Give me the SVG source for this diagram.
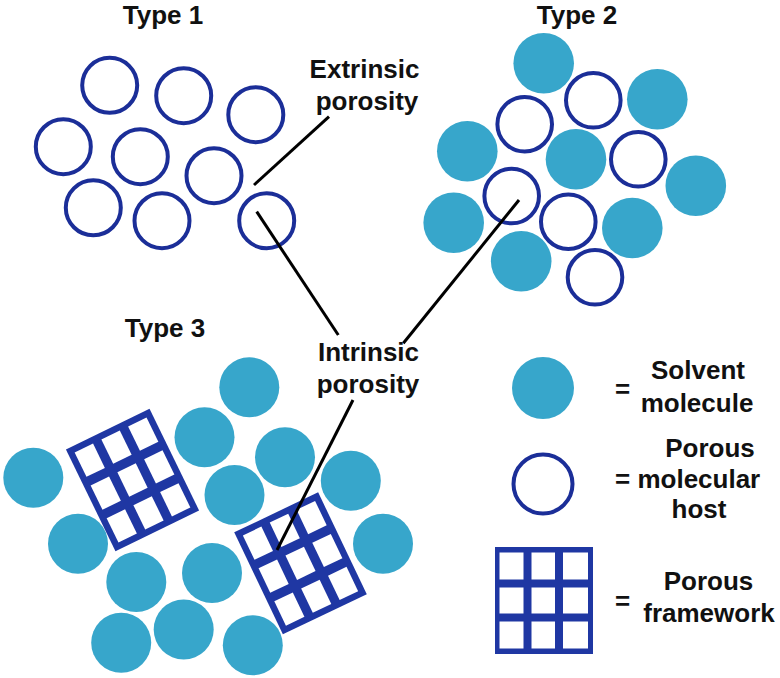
<svg xmlns="http://www.w3.org/2000/svg" xmlns:xlink="http://www.w3.org/1999/xlink" width="780" height="678" viewBox="0 0 780 678">
<style>
.host{fill:#ffffff;stroke:#1B2E98;stroke-width:4}
.solv{fill:#37A6CB}
.fw{fill:#1F37A3}
.cell{fill:#ffffff}
.lbl{font-family:"Liberation Sans",Arial,sans-serif;font-weight:bold;font-size:26px;fill:#111111}
.mid{text-anchor:middle}
.conn{stroke:#000000;stroke-width:3;stroke-linecap:butt;fill:none}
</style>
<defs>
<g id="grid">
<rect class="fw" x="-46.5" y="-56.5" width="93" height="113"/>
<rect class="cell" x="-40" y="-50" width="20.5" height="27"/>
<rect class="cell" x="-10.25" y="-50" width="20.5" height="27"/>
<rect class="cell" x="19.5" y="-50" width="20.5" height="27"/>
<rect class="cell" x="-40" y="-13.5" width="20.5" height="27"/>
<rect class="cell" x="-10.25" y="-13.5" width="20.5" height="27"/>
<rect class="cell" x="19.5" y="-13.5" width="20.5" height="27"/>
<rect class="cell" x="-40" y="23" width="20.5" height="27"/>
<rect class="cell" x="-10.25" y="23" width="20.5" height="27"/>
<rect class="cell" x="19.5" y="23" width="20.5" height="27"/>
</g>
</defs>
<rect width="780" height="678" fill="#ffffff"/>

<g id="type1">
<circle class="host" cx="109.7" cy="85.3" r="27.5"/>
<circle class="host" cx="183.7" cy="95.7" r="27.5"/>
<circle class="host" cx="255.8" cy="114.7" r="27.5"/>
<circle class="host" cx="63.3" cy="146.7" r="27.5"/>
<circle class="host" cx="140.3" cy="156.7" r="27.5"/>
<circle class="host" cx="214" cy="175.7" r="27.5"/>
<circle class="host" cx="93.3" cy="207.8" r="27.5"/>
<circle class="host" cx="162" cy="220.7" r="27.5"/>
<circle class="host" cx="266.7" cy="220.7" r="27.5"/>
</g>

<g id="type2">
<circle class="solv" cx="543.7" cy="63.3" r="30.3"/>
<circle class="solv" cx="657.3" cy="99.3" r="30.3"/>
<circle class="solv" cx="467.3" cy="151.2" r="30.3"/>
<circle class="solv" cx="576" cy="159.3" r="30.3"/>
<circle class="solv" cx="695.8" cy="185.7" r="30.3"/>
<circle class="solv" cx="453.7" cy="222.8" r="30.3"/>
<circle class="solv" cx="632.3" cy="228" r="30.3"/>
<circle class="solv" cx="521.2" cy="261.2" r="30.3"/>
<circle class="host" cx="593.3" cy="100.3" r="27.3"/>
<circle class="host" cx="524.7" cy="124.2" r="27.3"/>
<circle class="host" cx="638.3" cy="159.3" r="27.3"/>
<circle class="host" cx="511.7" cy="196" r="27.3"/>
<circle class="host" cx="568.3" cy="221.7" r="27.3"/>
<circle class="host" cx="595" cy="277.3" r="27.3"/>
</g>

<g id="type3">
<circle class="solv" cx="249.3" cy="387.3" r="30"/>
<circle class="solv" cx="204.5" cy="437.3" r="30"/>
<circle class="solv" cx="285" cy="457.3" r="30"/>
<circle class="solv" cx="33.3" cy="477.8" r="30"/>
<circle class="solv" cx="350.8" cy="480.7" r="30"/>
<circle class="solv" cx="234.5" cy="495" r="30"/>
<circle class="solv" cx="78" cy="543.7" r="30"/>
<circle class="solv" cx="383" cy="543.7" r="30"/>
<circle class="solv" cx="136.3" cy="582" r="30"/>
<circle class="solv" cx="212" cy="573" r="30"/>
<circle class="solv" cx="121.2" cy="642.8" r="30"/>
<circle class="solv" cx="183.7" cy="629.5" r="30"/>
<circle class="solv" cx="252.8" cy="645.3" r="30"/>
<g id="framework1" transform="translate(132.5,480) rotate(-26)"><use xlink:href="#grid" href="#grid"/></g>
<g id="framework2" transform="translate(300.5,563.3) rotate(-25.5)"><use xlink:href="#grid" href="#grid"/></g>
</g>

<g id="connectors">
<line class="conn" x1="329" y1="116.7" x2="254" y2="185"/>
<line class="conn" x1="256.7" y1="211.7" x2="338.3" y2="335"/>
<line class="conn" x1="519" y1="200" x2="403.3" y2="343.3"/>
<line class="conn" x1="353" y1="400" x2="277" y2="550"/>
</g>

<g id="labels">
<text class="lbl mid" x="163" y="24">Type 1</text>
<text class="lbl mid" x="577" y="24">Type 2</text>
<text class="lbl mid" x="165" y="337">Type 3</text>
<g id="extrinsic-label">
<text class="lbl mid" x="364.5" y="78">Extrinsic</text>
<text class="lbl mid" x="367" y="110">porosity</text>
</g>
<g id="intrinsic-label">
<text class="lbl mid" x="368.5" y="361">Intrinsic</text>
<text class="lbl mid" x="368" y="393">porosity</text>
</g>
</g>

<g id="legend">
<g id="legend-solvent">
<circle class="solv" cx="543" cy="388" r="31"/>
<text class="lbl" x="615" y="398">=</text>
<text class="lbl mid" x="698" y="379">Solvent</text>
<text class="lbl mid" x="697" y="412">molecule</text>
</g>
<g id="legend-host">
<circle class="host" cx="543" cy="484" r="29.5"/>
<text class="lbl mid" x="710" y="457">Porous</text>
<text class="lbl" x="615" y="488">= molecular</text>
<text class="lbl mid" x="699" y="518">host</text>
</g>
<g id="legend-framework">
<rect class="fw" x="495" y="547" width="98" height="107"/>
<rect class="cell" x="499.5" y="552.5" width="24" height="27"/>
<rect class="cell" x="531.5" y="552.5" width="23.5" height="27"/>
<rect class="cell" x="563" y="552.5" width="25" height="27"/>
<rect class="cell" x="499.5" y="587.5" width="24" height="26"/>
<rect class="cell" x="531.5" y="587.5" width="23.5" height="26"/>
<rect class="cell" x="563" y="587.5" width="25" height="26"/>
<rect class="cell" x="499.5" y="621.5" width="24" height="27"/>
<rect class="cell" x="531.5" y="621.5" width="23.5" height="27"/>
<rect class="cell" x="563" y="621.5" width="25" height="27"/>
<text class="lbl" x="615" y="610">=</text>
<text class="lbl mid" x="708.5" y="590">Porous</text>
<text class="lbl mid" x="709" y="622">framework</text>
</g>
</g>
</svg>
